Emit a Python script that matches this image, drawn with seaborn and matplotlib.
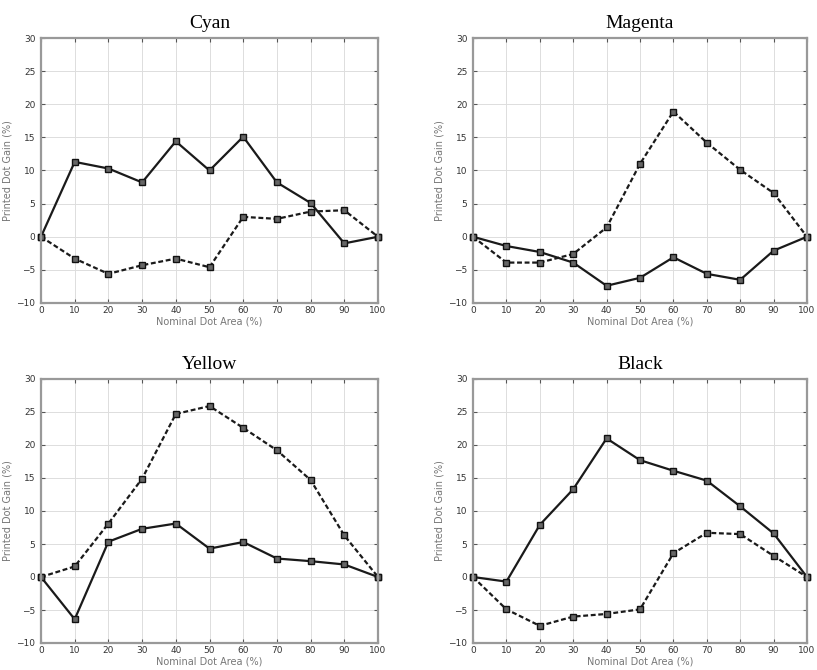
import numpy as np
import pandas as pd
import matplotlib
matplotlib.use("Agg")
import matplotlib.pyplot as plt
import seaborn as sns

nominal = [0, 10, 20, 30, 40, 50, 60, 70, 80, 90, 100]
panels = ["Cyan", "Magenta", "Yellow", "Black"]

cyan_solid = [0, 11.3, 10.3, 8.2, 14.4, 10.0, 15.1, 8.2, 5.1, -1.0, 0]
cyan_dashed = [0, -3.3, -5.6, -4.3, -3.3, -4.6, 3.0, 2.7, 3.8, 4.0, 0]
magenta_solid = [0, -1.4, -2.3, -3.9, -7.4, -6.2, -3.1, -5.6, -6.5, -2.1, 0]
magenta_dashed = [0, -3.9, -3.9, -2.6, 1.4, 11.0, 18.9, 14.2, 10.1, 6.6, 0]
yellow_solid = [0, -6.4, 5.35, 7.3, 8.1, 4.3, 5.3, 2.8, 2.4, 1.9, 0]
yellow_dashed = [0, 1.6, 8.1, 14.9, 24.7, 25.9, 22.6, 19.2, 14.7, 6.3, 0]
black_solid = [0, -0.7, 7.9, 13.3, 21.0, 17.7, 16.1, 14.6, 10.7, 6.6, 0]
black_dashed = [0, -4.9, -7.4, -6.0, -5.6, -4.9, 3.6, 6.7, 6.5, 3.2, 0]

series = {
    "Cyan": (cyan_solid, cyan_dashed),
    "Magenta": (magenta_solid, magenta_dashed),
    "Yellow": (yellow_solid, yellow_dashed),
    "Black": (black_solid, black_dashed),
}

xticks = [0, 10, 20, 30, 40, 50, 60, 70, 80, 90, 100]
yticks = [-10, -5, 0, 5, 10, 15, 20, 25, 30]

sns.set_theme(style="white")
plt.rcParams["font.family"] = ["DejaVu Sans"]

fig = plt.figure(figsize=(8.17, 6.70), dpi=100)
W, H = 817, 670
boxes = {
    "Cyan": (41, 38, 337, 265),
    "Magenta": (473, 38, 334, 265),
    "Yellow": (41, 379, 337, 264),
    "Black": (473, 379, 334, 264),
}

for name in panels:
    l, t, w, h = boxes[name]
    ax = fig.add_axes([l / W, 1 - (t + h) / H, w / W, h / H])
    solid, dashed = series[name]
    df = pd.DataFrame({
        "x": nominal * 2,
        "y": list(solid) + list(dashed),
        "kind": ["solid"] * len(nominal) + ["dashed"] * len(nominal),
    })
    sns.lineplot(data=df, x="x", y="y", style="kind",
                 style_order=["solid", "dashed"],
                 dashes={"solid": "", "dashed": (2.2, 1.2)},
                 markers={"solid": "s", "dashed": "s"},
                 color="#1a1a1a", linewidth=1.6, markersize=4.2,
                 markerfacecolor="#666666", markeredgecolor="#111111",
                 markeredgewidth=1.0, legend=False, ax=ax, clip_on=False)
    ax.set_xlim(0, 100)
    ax.set_ylim(-10, 30)
    ax.set_xticks(xticks)
    ax.set_yticks(yticks)
    ax.grid(True, color="#dddddd", linewidth=0.7)
    ax.tick_params(direction="in", length=3, width=0.8, colors="#555555",
                   labelsize=6.5, labelcolor="#333333", pad=2,
                   top=True, right=True, bottom=True, left=True)
    ax.tick_params(axis="y", pad=4)
    for sp in ax.spines.values():
        sp.set_color("#999999")
        sp.set_linewidth(1.6)
    ax.set_xlabel("Nominal Dot Area (%)", fontsize=7, color="#777777", labelpad=1)
    ax.set_ylabel("Printed Dot Gain (%)", fontsize=7, color="#777777", labelpad=3)
    ax.set_title(name, fontsize=14, family=["Liberation Serif"], color="black", pad=7)

fig.savefig("out.png", dpi=100)
